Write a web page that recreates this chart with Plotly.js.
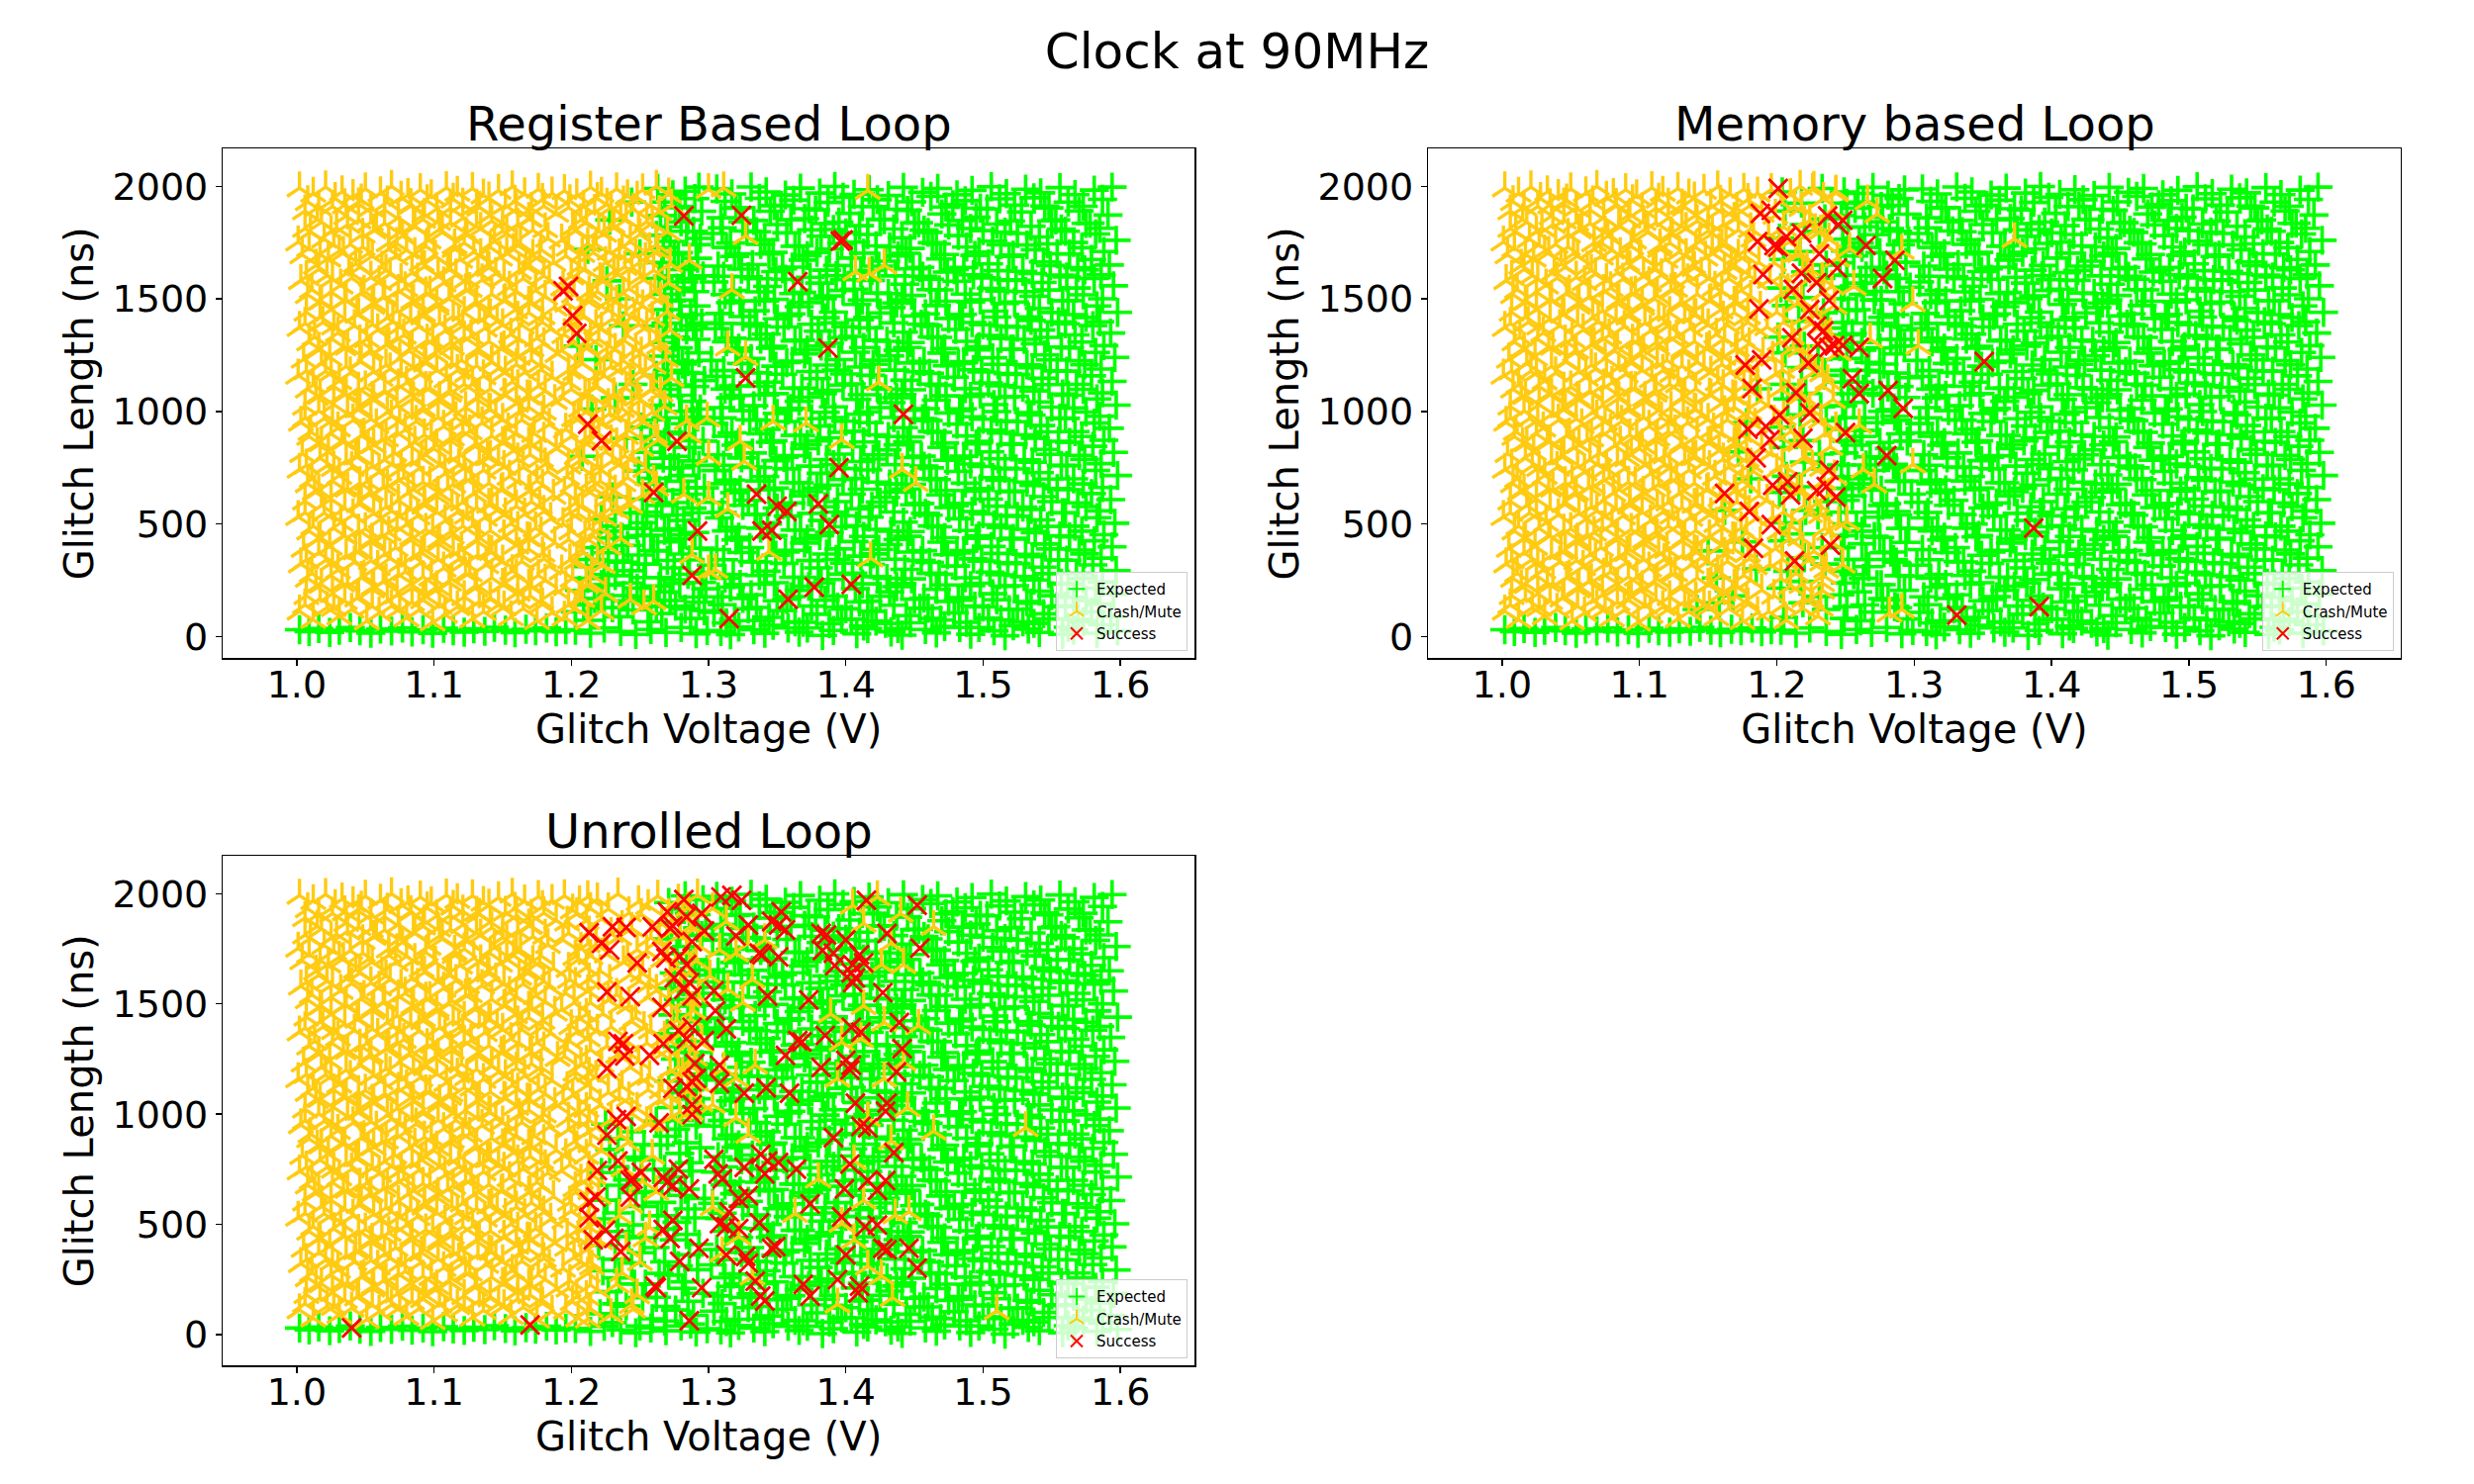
<!DOCTYPE html>
<html><head><meta charset="utf-8">
<script src="https://cdn.plot.ly/plotly-3.0.1.min.js"></script>
<style>html,body{margin:0;padding:0;background:#fff}</style>
</head><body><div id="chart" style="width:2500px;height:1500px"></div>
<script>
const figureTitle = 'Clock at 90MHz';
const panelTitles = ['Register Based Loop', 'Memory based Loop', 'Unrolled Loop'];
const seriesNames = ['Expected', 'Crash/Mute', 'Success'];
const xTicks = [1.0, 1.1, 1.2, 1.3, 1.4, 1.5, 1.6];
const yTicks = [0, 500, 1000, 1500, 2000];

// Crash/Mute cloud common to all three sweeps (1.00 - 1.19 V)
const coreYellow = [
[1.002,1992],[1.012,1968],[1.021,1996],[1.033,1975],[1.041,1958],[1.050,1988],[1.061,1970],[1.069,1999],[1.081,1962],[1.090,1984],[1.098,1957],[1.109,1993],[1.117,1972],[1.128,1990],[1.136,1960],[1.147,1981],[1.157,1997],[1.166,1966],[1.176,1986],[1.186,1969],
[1.006,1890],[1.015,1852],[1.026,1910],[1.036,1868],[1.045,1921],[1.054,1840],[1.064,1895],[1.074,1860],[1.083,1918],[1.093,1875],[1.103,1843],[1.112,1902],[1.121,1858],[1.131,1915],[1.141,1871],[1.150,1838],[1.160,1898],[1.170,1856],[1.180,1912],[1.189,1879],
[1.001,1752],[1.010,1798],[1.020,1765],[1.029,1815],[1.039,1741],[1.048,1786],[1.058,1810],[1.067,1748],[1.077,1779],[1.086,1820],[1.096,1760],[1.106,1795],[1.115,1738],[1.124,1783],[1.134,1812],[1.144,1755],[1.153,1790],[1.163,1744],[1.172,1805],[1.183,1768],
[1.004,1695],[1.014,1648],[1.023,1680],[1.031,1712],[1.043,1655],[1.052,1701],[1.062,1640],[1.072,1688],[1.080,1716],[1.091,1660],[1.100,1692],[1.110,1635],[1.119,1675],[1.129,1708],[1.139,1651],[1.148,1684],[1.158,1719],[1.167,1645],[1.177,1690],[1.187,1661],
[1.003,1580],[1.011,1541],[1.022,1603],[1.032,1560],[1.040,1592],[1.049,1533],[1.060,1575],[1.068,1610],[1.079,1548],[1.088,1587],[1.097,1528],[1.107,1570],[1.116,1605],[1.126,1545],[1.135,1583],[1.145,1612],[1.155,1551],[1.165,1590],[1.174,1537],[1.184,1578],
[1.007,1440],[1.017,1488],[1.025,1452],[1.035,1495],[1.044,1431],[1.055,1470],[1.063,1505],[1.073,1446],[1.084,1480],[1.092,1423],[1.102,1466],[1.111,1500],[1.122,1438],[1.130,1475],[1.140,1428],[1.151,1491],[1.159,1450],[1.169,1484],[1.179,1425],[1.188,1462],
[1.002,1372],[1.013,1330],[1.019,1395],[1.030,1348],[1.042,1380],[1.051,1321],[1.059,1361],[1.070,1398],[1.078,1338],[1.089,1376],[1.099,1316],[1.108,1357],[1.118,1392],[1.127,1334],[1.137,1369],[1.146,1400],[1.156,1342],[1.164,1383],[1.175,1325],[1.185,1366],
[1.005,1231],[1.016,1272],[1.024,1240],[1.034,1286],[1.046,1222],[1.053,1260],[1.065,1295],[1.075,1235],[1.082,1268],[1.094,1214],[1.101,1252],[1.113,1289],[1.120,1227],[1.132,1264],[1.142,1218],[1.149,1278],[1.161,1243],[1.171,1281],[1.178,1212],[1.190,1256],
[1.001,1160],[1.012,1118],[1.021,1178],[1.031,1135],[1.039,1170],[1.050,1108],[1.061,1150],[1.068,1188],[1.080,1127],[1.090,1165],[1.097,1104],[1.109,1143],[1.117,1181],[1.128,1121],[1.136,1157],[1.147,1190],[1.157,1131],[1.166,1173],[1.176,1112],[1.186,1152],
[1.006,1022],[1.014,1065],[1.027,1030],[1.036,1078],[1.044,1011],[1.056,1050],[1.064,1084],[1.073,1025],[1.085,1058],[1.092,1003],[1.104,1044],[1.111,1080],[1.123,1017],[1.131,1055],[1.141,1008],[1.152,1071],[1.160,1035],[1.168,1068],[1.180,1000],[1.188,1047],
[1.003,951],[1.010,910],[1.020,968],[1.030,925],[1.041,960],[1.049,898],[1.058,940],[1.069,978],[1.079,917],[1.087,955],[1.098,893],[1.107,933],[1.116,972],[1.126,912],[1.135,948],[1.145,981],[1.154,921],[1.164,962],[1.173,901],[1.184,942],
[1.004,812],[1.015,855],[1.023,820],[1.033,868],[1.043,801],[1.052,840],[1.062,874],[1.071,815],[1.082,848],[1.091,793],[1.100,834],[1.112,870],[1.119,806],[1.130,845],[1.139,797],[1.150,861],[1.158,825],[1.169,858],[1.178,790],[1.189,836],
[1.002,742],[1.011,700],[1.022,758],[1.031,715],[1.040,750],[1.051,688],[1.060,730],[1.070,768],[1.078,707],[1.089,745],[1.097,683],[1.108,723],[1.118,762],[1.127,702],[1.136,738],[1.147,771],[1.155,711],[1.165,752],[1.175,691],[1.183,733],
[1.006,601],[1.013,644],[1.025,610],[1.034,657],[1.045,590],[1.053,630],[1.063,663],[1.074,604],[1.081,637],[1.093,582],[1.102,623],[1.110,660],[1.121,596],[1.129,634],[1.140,586],[1.149,651],[1.159,615],[1.170,648],[1.177,580],[1.187,626],
[1.001,532],[1.012,490],[1.020,548],[1.032,505],[1.041,540],[1.050,478],[1.061,520],[1.069,557],[1.080,497],[1.088,535],[1.099,473],[1.108,513],[1.117,552],[1.128,492],[1.137,528],[1.146,560],[1.156,501],[1.166,543],[1.174,481],[1.185,523],
[1.005,391],[1.016,434],[1.024,400],[1.035,447],[1.043,380],[1.054,420],[1.062,453],[1.072,394],[1.083,427],[1.091,372],[1.103,413],[1.113,450],[1.120,386],[1.131,424],[1.142,376],[1.151,441],[1.160,405],[1.168,438],[1.179,370],[1.188,416],
[1.003,322],[1.011,280],[1.021,338],[1.030,295],[1.042,330],[1.049,268],[1.059,310],[1.068,347],[1.079,287],[1.090,325],[1.098,263],[1.107,303],[1.118,342],[1.126,282],[1.138,318],[1.145,350],[1.157,291],[1.164,333],[1.176,271],[1.184,313],
[1.007,181],[1.014,224],[1.026,190],[1.033,237],[1.044,170],[1.055,210],[1.063,243],[1.073,184],[1.084,217],[1.092,162],[1.101,203],[1.111,240],[1.122,176],[1.130,214],[1.141,166],[1.150,231],[1.161,195],[1.169,228],[1.178,160],[1.189,206],
[1.002,112],[1.012,75],[1.022,128],[1.031,90],[1.040,120],[1.051,68],[1.060,104],[1.069,135],[1.080,82],[1.089,117],[1.099,63],[1.108,98],[1.117,131],[1.128,78],[1.136,110],[1.147,140],[1.156,86],[1.165,124],[1.175,70],[1.186,106]
];
const coreYellow2 = [
[1.008,1931],[1.016,1908],[1.028,1945],[1.035,1917],[1.047,1938],[1.054,1903],[1.066,1929],[1.076,1950],[1.083,1912],[1.095,1935],[1.102,1899],[1.114,1942],[1.121,1920],[1.133,1906],[1.140,1947],[1.152,1915],[1.159,1933],[1.171,1901],[1.179,1940],
[1.006,1812],[1.018,1840],[1.025,1798],[1.037,1829],[1.045,1849],[1.056,1805],[1.064,1835],[1.075,1795],[1.085,1826],[1.092,1852],[1.104,1808],[1.112,1838],[1.123,1792],[1.131,1822],[1.142,1845],[1.150,1801],[1.161,1830],[1.169,1856],[1.181,1810],
[1.009,1725],[1.017,1698],[1.027,1740],[1.034,1705],[1.048,1730],[1.055,1690],[1.067,1720],[1.073,1745],[1.086,1700],[1.094,1733],[1.101,1688],[1.115,1722],[1.122,1748],[1.134,1695],[1.141,1728],[1.153,1703],[1.160,1742],[1.172,1692],[1.178,1718],
[1.007,1598],[1.016,1630],[1.026,1588],[1.038,1620],[1.046,1640],[1.054,1595],[1.065,1626],[1.076,1584],[1.084,1615],[1.093,1643],[1.103,1600],[1.112,1632],[1.124,1586],[1.132,1618],[1.140,1638],[1.151,1592],[1.162,1624],[1.170,1646],[1.180,1602],
[1.008,1518],[1.018,1490],[1.025,1530],[1.036,1497],[1.047,1522],[1.056,1482],[1.064,1512],[1.074,1536],[1.085,1493],[1.094,1525],[1.102,1480],[1.113,1514],[1.123,1540],[1.131,1488],[1.142,1520],[1.152,1495],[1.160,1533],[1.171,1485],[1.181,1510],
[1.006,1390],[1.017,1420],[1.027,1378],[1.035,1410],[1.045,1432],[1.055,1386],[1.066,1415],[1.075,1375],[1.083,1406],[1.092,1436],[1.104,1392],[1.114,1423],[1.121,1380],[1.133,1412],[1.141,1430],[1.150,1384],[1.161,1418],[1.169,1438],[1.179,1395],
[1.009,1308],[1.016,1280],[1.026,1320],[1.037,1288],[1.046,1312],[1.054,1272],[1.067,1302],[1.073,1326],[1.084,1283],[1.095,1315],[1.103,1270],[1.112,1305],[1.122,1330],[1.132,1278],[1.140,1310],[1.151,1286],[1.162,1323],[1.170,1275],[1.180,1300],
[1.007,1180],[1.018,1212],[1.025,1170],[1.036,1200],[1.047,1222],[1.056,1176],[1.065,1205],[1.076,1165],[1.085,1196],[1.093,1226],[1.102,1182],[1.113,1214],[1.124,1168],[1.131,1202],[1.142,1220],[1.152,1174],[1.160,1208],[1.171,1228],[1.178,1185],
[1.008,1098],[1.017,1070],[1.027,1110],[1.034,1078],[1.045,1102],[1.055,1062],[1.064,1092],[1.074,1116],[1.083,1073],[1.094,1105],[1.104,1060],[1.112,1095],[1.122,1120],[1.133,1068],[1.141,1100],[1.151,1076],[1.161,1113],[1.170,1065],[1.181,1090],
[1.006,970],[1.016,1002],[1.026,960],[1.037,990],[1.046,1012],[1.054,966],[1.066,995],[1.075,955],[1.084,986],[1.092,1016],[1.103,972],[1.114,1004],[1.123,958],[1.132,992],[1.140,1010],[1.150,964],[1.162,998],[1.169,1018],[1.179,975],
[1.009,888],[1.018,860],[1.025,900],[1.035,868],[1.047,892],[1.056,852],[1.065,882],[1.073,906],[1.086,863],[1.093,895],[1.102,850],[1.113,885],[1.121,910],[1.131,858],[1.142,890],[1.152,866],[1.160,903],[1.171,855],[1.180,880],
[1.007,760],[1.017,792],[1.027,750],[1.036,780],[1.045,802],[1.055,756],[1.064,785],[1.076,745],[1.084,776],[1.094,806],[1.104,762],[1.112,794],[1.122,748],[1.133,782],[1.141,800],[1.151,754],[1.161,788],[1.170,808],[1.181,765],
[1.008,678],[1.016,650],[1.026,690],[1.037,658],[1.046,682],[1.054,642],[1.066,672],[1.074,696],[1.085,653],[1.092,685],[1.103,640],[1.114,675],[1.123,700],[1.132,648],[1.140,680],[1.150,656],[1.162,693],[1.169,645],[1.179,670],
[1.006,550],[1.018,582],[1.025,540],[1.035,570],[1.047,592],[1.056,546],[1.065,575],[1.075,535],[1.083,566],[1.093,596],[1.102,552],[1.113,584],[1.124,538],[1.131,572],[1.142,590],[1.152,544],[1.160,578],[1.171,598],[1.180,555],
[1.009,468],[1.017,440],[1.027,480],[1.034,448],[1.045,472],[1.055,432],[1.067,462],[1.073,486],[1.084,443],[1.094,475],[1.104,430],[1.112,465],[1.121,490],[1.133,438],[1.141,470],[1.151,446],[1.161,483],[1.170,435],[1.178,460],
[1.007,340],[1.016,372],[1.026,330],[1.036,360],[1.046,382],[1.054,336],[1.064,365],[1.076,325],[1.085,356],[1.093,386],[1.103,342],[1.114,374],[1.122,328],[1.132,362],[1.140,380],[1.150,334],[1.162,368],[1.169,388],[1.180,345],
[1.008,258],[1.018,230],[1.025,270],[1.037,238],[1.047,262],[1.056,222],[1.065,252],[1.074,276],[1.083,233],[1.092,265],[1.102,220],[1.113,255],[1.123,280],[1.131,228],[1.142,260],[1.152,236],[1.160,273],[1.171,225],[1.181,250],
[1.006,140],[1.017,168],[1.027,128],[1.035,158],[1.045,176],[1.055,134],[1.066,160],[1.075,122],[1.084,152],[1.094,178],[1.104,138],[1.112,165],[1.122,125],[1.133,155],[1.141,172],[1.151,130],[1.161,162],[1.170,180],[1.179,143]
];

// Expected cloud common to all three sweeps (1.30 - 1.60 V)
const coreGreen = [
[1.306,1988],[1.317,1966],[1.331,1997],[1.342,1975],[1.356,1961],[1.367,1992],[1.381,1970],[1.392,1999],[1.406,1964],[1.417,1985],[1.431,1959],[1.442,1995],[1.456,1973],[1.467,1990],[1.481,1962],[1.492,1982],[1.506,1998],[1.517,1967],[1.531,1987],[1.542,1971],[1.556,1994],[1.567,1963],[1.581,1983],[1.594,1996],
[1.309,1860],[1.320,1902],[1.333,1848],[1.345,1889],[1.353,1915],[1.370,1856],[1.378,1895],[1.395,1841],[1.403,1880],[1.420,1910],[1.428,1852],[1.445,1893],[1.453,1838],[1.470,1877],[1.478,1918],[1.495,1862],[1.503,1899],[1.520,1845],[1.528,1886],[1.545,1912],[1.553,1850],[1.570,1890],[1.578,1836],[1.591,1872],
[1.303,1790],[1.316,1748],[1.328,1801],[1.341,1762],[1.357,1793],[1.366,1735],[1.382,1778],[1.391,1808],[1.407,1752],[1.416,1786],[1.432,1731],[1.441,1771],[1.457,1805],[1.466,1744],[1.482,1781],[1.491,1812],[1.507,1756],[1.516,1796],[1.532,1739],[1.541,1775],[1.557,1810],[1.566,1750],[1.582,1788],[1.597,1760],
[1.307,1645],[1.319,1688],[1.332,1652],[1.344,1699],[1.354,1633],[1.369,1672],[1.379,1706],[1.394,1648],[1.404,1681],[1.419,1626],[1.429,1667],[1.444,1702],[1.454,1640],[1.469,1677],[1.479,1630],[1.494,1693],[1.504,1655],[1.519,1688],[1.529,1622],[1.544,1664],[1.554,1700],[1.569,1638],[1.579,1675],[1.592,1650],
[1.304,1575],[1.318,1537],[1.329,1598],[1.343,1555],[1.356,1587],[1.368,1528],[1.381,1570],[1.393,1603],[1.406,1543],[1.418,1582],[1.431,1523],[1.443,1565],[1.456,1600],[1.468,1540],[1.481,1578],[1.493,1607],[1.506,1546],[1.518,1585],[1.531,1532],[1.543,1573],[1.556,1605],[1.568,1548],[1.581,1590],[1.595,1558],
[1.308,1435],[1.316,1483],[1.334,1447],[1.341,1490],[1.358,1426],[1.366,1465],[1.383,1500],[1.391,1441],[1.408,1475],[1.416,1418],[1.433,1461],[1.441,1495],[1.458,1433],[1.466,1470],[1.483,1423],[1.491,1486],[1.508,1445],[1.516,1479],[1.533,1420],[1.541,1457],[1.558,1492],[1.566,1430],[1.583,1468],[1.598,1440],
[1.305,1367],[1.317,1325],[1.330,1390],[1.342,1343],[1.355,1375],[1.367,1316],[1.380,1356],[1.392,1393],[1.405,1333],[1.417,1371],[1.430,1311],[1.442,1352],[1.455,1387],[1.467,1329],[1.480,1364],[1.492,1395],[1.505,1337],[1.517,1378],[1.530,1320],[1.542,1361],[1.555,1398],[1.567,1340],[1.580,1381],[1.593,1348],
[1.302,1226],[1.320,1267],[1.331,1235],[1.345,1281],[1.357,1217],[1.370,1255],[1.382,1290],[1.395,1230],[1.407,1263],[1.420,1209],[1.432,1247],[1.445,1284],[1.457,1222],[1.470,1259],[1.482,1213],[1.495,1273],[1.507,1238],[1.520,1276],[1.532,1207],[1.545,1251],[1.557,1286],[1.570,1225],[1.582,1262],[1.596,1240],
[1.306,1155],[1.318,1113],[1.329,1173],[1.343,1130],[1.354,1165],[1.368,1103],[1.379,1145],[1.393,1183],[1.404,1122],[1.418,1160],[1.429,1099],[1.443,1138],[1.454,1176],[1.468,1116],[1.479,1152],[1.493,1185],[1.504,1126],[1.518,1168],[1.529,1107],[1.543,1147],[1.554,1180],[1.568,1120],[1.579,1158],[1.594,1133],
[1.309,1017],[1.316,1060],[1.333,1025],[1.341,1073],[1.358,1006],[1.366,1045],[1.383,1079],[1.391,1020],[1.408,1053],[1.416,998],[1.433,1039],[1.441,1075],[1.458,1012],[1.466,1050],[1.483,1003],[1.491,1066],[1.508,1030],[1.516,1063],[1.533,995],[1.541,1042],[1.558,1077],[1.566,1015],[1.583,1055],[1.597,1028],
[1.304,946],[1.317,905],[1.330,963],[1.342,920],[1.356,955],[1.367,893],[1.381,935],[1.392,973],[1.406,912],[1.417,950],[1.431,888],[1.442,928],[1.456,967],[1.467,907],[1.481,943],[1.492,976],[1.506,916],[1.517,957],[1.531,896],[1.542,937],[1.556,970],[1.567,910],[1.581,948],[1.592,925],
[1.307,807],[1.320,850],[1.332,815],[1.345,863],[1.355,796],[1.370,835],[1.380,869],[1.395,810],[1.405,843],[1.420,788],[1.430,829],[1.445,865],[1.455,801],[1.470,840],[1.480,792],[1.495,856],[1.505,820],[1.520,853],[1.530,785],[1.545,831],[1.555,867],[1.570,805],[1.580,845],[1.595,818],
[1.305,737],[1.316,695],[1.331,753],[1.341,710],[1.357,745],[1.366,683],[1.382,725],[1.391,763],[1.407,702],[1.416,740],[1.432,678],[1.441,718],[1.457,757],[1.466,697],[1.482,733],[1.491,766],[1.507,706],[1.516,747],[1.532,686],[1.541,728],[1.557,760],[1.566,700],[1.582,738],[1.598,715],
[1.303,596],[1.319,639],[1.329,605],[1.344,652],[1.354,585],[1.369,625],[1.379,658],[1.394,599],[1.404,632],[1.419,577],[1.429,618],[1.444,655],[1.454,591],[1.469,629],[1.479,581],[1.494,646],[1.504,610],[1.519,643],[1.529,575],[1.544,621],[1.554,657],[1.569,594],[1.579,635],[1.593,608],
[1.308,527],[1.317,485],[1.334,543],[1.343,500],[1.358,535],[1.367,473],[1.383,515],[1.392,552],[1.408,492],[1.417,530],[1.433,468],[1.442,508],[1.458,547],[1.467,487],[1.483,523],[1.492,555],[1.508,496],[1.517,538],[1.533,476],[1.542,518],[1.558,550],[1.567,490],[1.583,528],[1.596,503],
[1.306,386],[1.320,429],[1.330,395],[1.345,442],[1.356,375],[1.370,415],[1.381,448],[1.395,389],[1.406,422],[1.420,367],[1.431,408],[1.445,445],[1.456,381],[1.470,419],[1.481,371],[1.495,436],[1.506,400],[1.520,433],[1.531,365],[1.545,411],[1.556,447],[1.570,384],[1.581,425],[1.594,398],
[1.302,317],[1.318,275],[1.332,333],[1.342,290],[1.355,325],[1.368,263],[1.380,305],[1.393,342],[1.405,282],[1.418,320],[1.430,258],[1.443,298],[1.455,337],[1.468,277],[1.480,313],[1.493,345],[1.505,286],[1.518,328],[1.530,266],[1.543,308],[1.555,340],[1.568,280],[1.580,318],[1.597,293],
[1.307,176],[1.316,219],[1.331,185],[1.341,232],[1.357,165],[1.366,205],[1.382,238],[1.391,179],[1.407,212],[1.416,157],[1.432,198],[1.441,235],[1.457,171],[1.466,209],[1.482,161],[1.491,226],[1.507,190],[1.516,223],[1.532,155],[1.541,201],[1.557,237],[1.566,174],[1.582,215],[1.595,188],
[1.304,107],[1.319,70],[1.329,123],[1.344,85],[1.354,115],[1.369,63],[1.379,99],[1.394,130],[1.404,77],[1.419,112],[1.429,58],[1.444,93],[1.454,126],[1.469,73],[1.479,105],[1.494,135],[1.504,81],[1.519,119],[1.529,65],[1.544,101],[1.554,132],[1.569,76],[1.579,110],[1.593,88],
[1.309,22],[1.316,8],[1.333,30],[1.341,14],[1.358,38],[1.366,19],[1.383,5],[1.391,27],[1.408,12],[1.416,35],[1.433,20],[1.441,6],[1.458,31],[1.466,16],[1.483,40],[1.491,10],[1.508,25],[1.516,3],[1.533,33],[1.541,18],[1.558,9],[1.566,29],[1.583,15],[1.598,24]
];
const coreGreen2 = [
[1.312,1933],[1.323,1905],[1.337,1946],[1.348,1914],[1.362,1938],[1.373,1900],[1.387,1928],[1.398,1951],[1.412,1910],[1.423,1940],[1.437,1898],[1.448,1931],[1.462,1955],[1.473,1908],[1.487,1936],[1.498,1902],[1.512,1944],[1.523,1916],[1.537,1949],[1.548,1904],[1.562,1930],[1.573,1911],[1.587,1942],
[1.310,1815],[1.325,1842],[1.335,1798],[1.350,1830],[1.360,1851],[1.375,1806],[1.385,1834],[1.400,1793],[1.410,1825],[1.425,1854],[1.435,1810],[1.450,1837],[1.460,1795],[1.475,1828],[1.485,1848],[1.500,1803],[1.510,1832],[1.525,1790],[1.535,1822],[1.550,1846],[1.560,1800],[1.575,1835],[1.585,1813],
[1.313,1728],[1.322,1700],[1.338,1742],[1.347,1706],[1.363,1733],[1.372,1692],[1.388,1721],[1.397,1746],[1.413,1703],[1.422,1735],[1.438,1690],[1.447,1724],[1.463,1749],[1.472,1697],[1.488,1730],[1.497,1708],[1.513,1740],[1.522,1694],[1.538,1718],[1.547,1744],[1.563,1699],[1.572,1727],[1.588,1710],
[1.311,1600],[1.324,1632],[1.336,1589],[1.349,1621],[1.361,1641],[1.374,1596],[1.386,1627],[1.399,1585],[1.411,1616],[1.424,1645],[1.436,1602],[1.449,1633],[1.461,1587],[1.474,1619],[1.486,1639],[1.499,1593],[1.511,1625],[1.524,1582],[1.536,1612],[1.549,1648],[1.561,1597],[1.574,1629],[1.586,1606],
[1.312,1519],[1.323,1491],[1.337,1531],[1.348,1498],[1.362,1523],[1.373,1483],[1.387,1513],[1.398,1537],[1.412,1494],[1.423,1526],[1.437,1481],[1.448,1515],[1.462,1541],[1.473,1489],[1.487,1521],[1.498,1496],[1.512,1534],[1.523,1486],[1.537,1511],[1.548,1539],[1.562,1492],[1.573,1518],[1.587,1500],
[1.310,1391],[1.325,1421],[1.335,1379],[1.350,1411],[1.360,1433],[1.375,1387],[1.385,1416],[1.400,1376],[1.410,1407],[1.425,1437],[1.435,1393],[1.450,1424],[1.460,1381],[1.475,1413],[1.485,1431],[1.500,1385],[1.510,1419],[1.525,1374],[1.535,1404],[1.550,1439],[1.560,1389],[1.575,1417],[1.585,1398],
[1.313,1309],[1.322,1281],[1.338,1321],[1.347,1289],[1.363,1313],[1.372,1273],[1.388,1303],[1.397,1327],[1.413,1284],[1.422,1316],[1.438,1271],[1.447,1306],[1.463,1331],[1.472,1279],[1.488,1311],[1.497,1287],[1.513,1324],[1.522,1276],[1.538,1301],[1.547,1329],[1.563,1282],[1.572,1308],[1.588,1292],
[1.311,1181],[1.324,1213],[1.336,1171],[1.349,1201],[1.361,1223],[1.374,1177],[1.386,1206],[1.399,1166],[1.411,1197],[1.424,1227],[1.436,1183],[1.449,1215],[1.461,1169],[1.474,1203],[1.486,1221],[1.499,1175],[1.511,1209],[1.524,1164],[1.536,1194],[1.549,1229],[1.561,1179],[1.574,1207],[1.586,1188],
[1.312,1099],[1.323,1071],[1.337,1111],[1.348,1079],[1.362,1103],[1.373,1063],[1.387,1093],[1.398,1117],[1.412,1074],[1.423,1106],[1.437,1061],[1.448,1096],[1.462,1121],[1.473,1069],[1.487,1101],[1.498,1077],[1.512,1114],[1.523,1066],[1.537,1091],[1.548,1119],[1.562,1072],[1.573,1098],[1.587,1082],
[1.310,971],[1.325,1003],[1.335,961],[1.350,991],[1.360,1013],[1.375,967],[1.385,996],[1.400,956],[1.410,987],[1.425,1017],[1.435,973],[1.450,1005],[1.460,959],[1.475,993],[1.485,1011],[1.500,965],[1.510,999],[1.525,954],[1.535,984],[1.550,1019],[1.560,969],[1.575,997],[1.585,978],
[1.313,889],[1.322,861],[1.338,901],[1.347,869],[1.363,893],[1.372,853],[1.388,883],[1.397,907],[1.413,864],[1.422,896],[1.438,851],[1.447,886],[1.463,911],[1.472,859],[1.488,891],[1.497,867],[1.513,904],[1.522,856],[1.538,881],[1.547,909],[1.563,862],[1.572,888],[1.588,872],
[1.311,761],[1.324,793],[1.336,751],[1.349,781],[1.361,803],[1.374,757],[1.386,786],[1.399,746],[1.411,777],[1.424,807],[1.436,763],[1.449,795],[1.461,749],[1.474,783],[1.486,801],[1.499,755],[1.511,789],[1.524,744],[1.536,774],[1.549,809],[1.561,759],[1.574,787],[1.586,768],
[1.312,679],[1.323,651],[1.337,691],[1.348,659],[1.362,683],[1.373,643],[1.387,673],[1.398,697],[1.412,654],[1.423,686],[1.437,641],[1.448,676],[1.462,701],[1.473,649],[1.487,681],[1.498,657],[1.512,694],[1.523,646],[1.537,671],[1.548,699],[1.562,652],[1.573,678],[1.587,662],
[1.310,551],[1.325,583],[1.335,541],[1.350,571],[1.360,593],[1.375,547],[1.385,576],[1.400,536],[1.410,567],[1.425,597],[1.435,553],[1.450,585],[1.460,539],[1.475,573],[1.485,591],[1.500,545],[1.510,579],[1.525,534],[1.535,564],[1.550,599],[1.560,549],[1.575,577],[1.585,558],
[1.313,469],[1.322,441],[1.338,481],[1.347,449],[1.363,473],[1.372,433],[1.388,463],[1.397,487],[1.413,444],[1.422,476],[1.438,431],[1.447,466],[1.463,491],[1.472,439],[1.488,471],[1.497,447],[1.513,484],[1.522,436],[1.538,461],[1.547,489],[1.563,442],[1.572,468],[1.588,452],
[1.311,341],[1.324,373],[1.336,331],[1.349,361],[1.361,383],[1.374,337],[1.386,366],[1.399,326],[1.411,357],[1.424,387],[1.436,343],[1.449,375],[1.461,329],[1.474,363],[1.486,381],[1.499,335],[1.511,369],[1.524,324],[1.536,354],[1.549,389],[1.561,339],[1.574,367],[1.586,348],
[1.312,259],[1.323,231],[1.337,271],[1.348,239],[1.362,263],[1.373,223],[1.387,253],[1.398,277],[1.412,234],[1.423,266],[1.437,221],[1.448,256],[1.462,281],[1.473,229],[1.487,261],[1.498,237],[1.512,274],[1.523,226],[1.537,251],[1.548,279],[1.562,232],[1.573,258],[1.587,242],
[1.310,141],[1.325,169],[1.335,129],[1.350,159],[1.360,177],[1.375,135],[1.385,161],[1.400,123],[1.410,153],[1.425,179],[1.435,139],[1.450,166],[1.460,126],[1.475,156],[1.485,173],[1.500,131],[1.510,163],[1.525,121],[1.535,148],[1.550,181],[1.560,136],[1.575,160],[1.585,144],
[1.313,60],[1.322,42],[1.338,71],[1.347,50],[1.363,65],[1.372,38],[1.388,57],[1.397,76],[1.413,46],[1.422,68],[1.438,35],[1.447,61],[1.463,80],[1.472,44],[1.488,63],[1.497,40],[1.513,74],[1.522,48],[1.537,58],[1.548,78],[1.562,41],[1.573,66],[1.587,52]
];

// Expected points along the shortest glitch lengths (1.00 - 1.30 V)
const stripGreen = [
[1.002,30],[1.009,22],[1.016,35],[1.024,18],[1.031,28],[1.039,40],[1.046,25],[1.054,15],[1.061,33],[1.069,24],[1.077,38],[1.084,20],[1.092,30],[1.099,14],[1.107,36],[1.114,26],[1.122,19],[1.129,34],[1.137,23],[1.144,41],[1.152,28],[1.159,17],[1.167,32],[1.174,25],[1.182,38],[1.189,21],[1.196,30],
[1.203,28],[1.214,15],[1.224,38],[1.236,22],[1.247,9],[1.258,31],[1.269,18],[1.280,40],[1.291,12],[1.299,27]
];

// Register Based Loop
const regGreen = [
[1.263,1990],[1.274,1962],[1.283,1978],[1.293,1996],[1.265,1870],[1.276,1905],[1.285,1850],[1.295,1889],
[1.262,1782],[1.272,1755],[1.284,1800],[1.294,1768],[1.266,1661],[1.275,1698],[1.286,1645],[1.292,1680],
[1.264,1590],[1.277,1548],[1.282,1575],[1.296,1602],[1.268,1452],[1.273,1490],[1.287,1430],[1.291,1468],
[1.263,1378],[1.276,1330],[1.284,1362],[1.295,1393],[1.267,1245],[1.274,1282],[1.285,1222],[1.293,1260],
[1.262,1160],[1.278,1118],[1.283,1172],[1.297,1137],[1.265,1028],[1.272,1070],[1.288,1045],[1.294,1010],
[1.251,930],[1.262,962],[1.271,908],[1.283,945],[1.292,975],[1.254,818],[1.265,852],[1.275,800],[1.286,840],[1.296,868],
[1.249,735],[1.261,702],[1.272,750],[1.281,715],[1.293,760],[1.252,610],[1.264,648],[1.274,595],[1.285,632],[1.297,660],
[1.222,520],[1.232,490],[1.243,548],[1.252,505],[1.262,535],[1.271,478],[1.282,515],[1.293,550],
[1.220,395],[1.231,438],[1.241,405],[1.253,448],[1.263,380],[1.272,420],[1.283,452],[1.294,392],
[1.211,310],[1.224,275],[1.233,335],[1.244,292],[1.254,322],[1.265,262],[1.275,305],[1.286,340],[1.296,285],
[1.206,205],[1.217,168],[1.227,228],[1.238,182],[1.248,215],[1.258,160],[1.268,198],[1.279,236],[1.289,175],[1.298,212],
[1.203,110],[1.214,72],[1.224,128],[1.235,88],[1.245,118],[1.256,65],[1.266,102],[1.276,134],[1.287,80],[1.297,115],
[1.205,1290],[1.215,1010],[1.228,1850],[1.235,1500],[1.212,1720],[1.240,880],[1.230,620],[1.218,1230],[1.245,1120],[1.208,800],[1.250,1700],[1.238,1380],[1.226,1580],[1.244,1930],[1.232,1060]
];
const regGreen2 = [
[1.268,1930],[1.279,1910],[1.290,1945],[1.269,1820],[1.280,1842],[1.289,1800],[1.267,1728],[1.278,1705],[1.291,1740],
[1.270,1602],[1.281,1630],[1.288,1590],[1.268,1520],[1.279,1494],[1.290,1532],[1.269,1392],[1.280,1418],[1.289,1380],
[1.267,1306],[1.278,1282],[1.291,1320],[1.270,1182],[1.281,1210],[1.288,1170],[1.268,1098],[1.279,1072],[1.290,1110],
[1.269,972],[1.280,1000],[1.289,960],
[1.258,888],[1.268,862],[1.279,900],[1.290,870],[1.256,762],[1.267,792],[1.278,750],[1.289,780],
[1.257,678],[1.269,650],[1.280,690],[1.291,660],[1.255,552],[1.266,582],[1.277,540],[1.288,570],
[1.226,468],[1.237,440],[1.248,480],[1.258,450],[1.268,472],[1.279,435],[1.290,462],
[1.215,342],[1.227,372],[1.238,330],[1.249,362],[1.260,382],[1.270,338],[1.281,366],
[1.212,258],[1.222,230],[1.232,270],[1.243,238],[1.253,262],[1.264,224],[1.274,252],[1.285,276],[1.295,240],
[1.209,140],[1.220,168],[1.230,128],[1.241,158],[1.251,176],[1.262,134],[1.272,160],[1.283,122],[1.293,152]
];
const regYellow = [
[1.195,1980],[1.204,1961],[1.214,1995],[1.222,1968],[1.233,1988],[1.241,1957],[1.252,1983],[1.262,1999],[1.271,1965],
[1.198,1905],[1.207,1850],[1.217,1892],[1.226,1920],[1.236,1862],[1.245,1898],[1.255,1842],[1.264,1887],[1.273,1915],
[1.193,1760],[1.203,1802],[1.212,1745],[1.224,1790],[1.231,1815],[1.243,1753],[1.250,1785],[1.262,1740],[1.270,1798],
[1.196,1690],[1.206,1642],[1.216,1705],[1.225,1660],[1.235,1695],[1.244,1638],[1.254,1678],[1.263,1712],[1.272,1655],
[1.194,1552],[1.205,1595],[1.213,1530],[1.223,1577],[1.234,1608],[1.242,1545],[1.253,1585],[1.261,1536],[1.271,1571],
[1.197,1480],[1.207,1432],[1.215,1495],[1.227,1450],[1.233,1488],[1.246,1425],[1.252,1468],[1.265,1502],[1.270,1443],
[1.195,1340],[1.204,1385],[1.214,1322],[1.222,1368],[1.235,1398],[1.241,1336],[1.255,1375],[1.262,1318],[1.272,1360],
[1.193,1270],[1.206,1222],[1.212,1285],[1.226,1240],[1.232,1275],[1.245,1215],[1.251,1258],[1.264,1292],[1.269,1233],
[1.198,1130],[1.203,1175],[1.217,1112],[1.224,1158],[1.236,1188],[1.243,1125],[1.254,1165],[1.260,1105],[1.273,1148],
[1.194,1060],[1.207,1012],[1.213,1075],[1.227,1030],[1.231,1065],[1.244,1005],[1.250,1048],[1.265,1082],[1.268,1022],
[1.196,920],[1.205,965],[1.216,902],[1.223,948],[1.234,978],[1.242,915],[1.253,955],[1.261,895],
[1.193,850],[1.204,802],[1.214,865],[1.225,820],[1.233,855],[1.245,795],[1.251,838],[1.263,872],
[1.197,710],[1.206,755],[1.215,692],[1.222,738],[1.236,768],[1.241,705],[1.254,745],[1.260,688],
[1.195,640],[1.203,592],[1.217,655],[1.226,610],[1.232,645],[1.243,585],[1.252,628],[1.262,662],
[1.194,500],[1.205,545],[1.213,482],[1.224,528],[1.233,560],[1.198,430],[1.207,382],[1.216,445],[1.227,400],[1.236,435],
[1.193,290],[1.204,335],[1.215,272],[1.223,318],[1.196,220],[1.206,172],[1.214,235],[1.225,190],[1.195,85],[1.203,125],[1.212,70],
[1.300,1985],[1.311,1992],[1.327,1780],[1.416,1981],[1.317,1540],[1.428,1649],[1.407,1620],[1.417,1613],[1.286,1671],[1.314,1285],
[1.327,1242],[1.424,1130],[1.299,970],[1.347,955],[1.371,948],[1.323,867],[1.397,874],[1.326,778],[1.300,800],[1.441,742],
[1.451,683],[1.300,618],[1.314,567],[1.344,377],[1.418,348],[1.305,297],[1.300,290],[1.260,157],[1.253,135],[1.243,165],
[1.222,114],[1.288,363],[1.284,957],[1.286,896],[1.282,631]
];
const regYellow2 = [
[1.199,1935],[1.209,1910],[1.219,1945],[1.229,1905],[1.238,1930],[1.248,1950],[1.258,1915],
[1.201,1815],[1.211,1840],[1.220,1800],[1.230,1830],[1.240,1852],[1.249,1808],[1.259,1835],
[1.198,1728],[1.208,1700],[1.218,1742],[1.228,1710],[1.237,1735],[1.247,1692],[1.257,1722],
[1.200,1600],[1.210,1632],[1.221,1588],[1.231,1620],[1.239,1642],[1.250,1596],[1.260,1626],
[1.202,1520],[1.212,1490],[1.219,1532],[1.229,1498],[1.238,1524],[1.248,1484],[1.258,1512],
[1.199,1392],[1.209,1420],[1.218,1380],[1.230,1410],[1.240,1434],[1.249,1386],[1.259,1416],
[1.201,1306],[1.211,1280],[1.220,1320],[1.228,1290],[1.239,1312],[1.247,1274],[1.257,1302],
[1.198,1182],[1.208,1212],[1.221,1170],[1.229,1200],[1.238,1224],[1.250,1176],[1.260,1205],
[1.200,1098],[1.210,1070],[1.219,1110],[1.231,1078],[1.240,1102],[1.248,1062],[1.258,1092],
[1.202,972],[1.212,1002],[1.218,960],[1.228,990],[1.237,1012],[1.249,966],[1.259,995],
[1.200,888],[1.210,860],[1.220,900],[1.229,868],[1.240,892],[1.198,760],[1.209,792],[1.219,750],[1.230,780],[1.239,802],
[1.201,678],[1.211,650],[1.221,690],[1.228,658],[1.238,682],[1.199,550],[1.208,582],[1.218,540],[1.229,570],[1.241,592],
[1.200,468],[1.210,440],[1.221,480],[1.199,340],[1.209,372],[1.219,330],[1.201,258],[1.211,230],[1.198,140],[1.208,168]
];
const regSuccess = [
[1.282,1868],[1.324,1871],[1.396,1756],[1.398,1762],[1.365,1576],[1.194,1535],[1.198,1555],[1.201,1425],[1.204,1346],[1.387,1281],
[1.327,1149],[1.442,987],[1.212,943],[1.222,870],[1.277,867],[1.395,750],[1.260,640],[1.335,632],[1.350,579],[1.357,555],
[1.380,589],[1.388,497],[1.292,469],[1.339,469],[1.346,472],[1.288,272],[1.377,219],[1.404,231],[1.358,165],[1.315,80]
];

// Memory based Loop
const memGreen = [
[1.204,1975],[1.233,1990],[1.259,1968],[1.270,1995],[1.281,1960],[1.293,1984],[1.206,1890],[1.235,1855],[1.257,1902],[1.268,1862],[1.284,1915],[1.295,1876],
[1.202,1770],[1.231,1800],[1.260,1748],[1.273,1785],[1.282,1812],[1.296,1758],[1.205,1675],[1.236,1650],[1.256,1690],[1.269,1640],[1.285,1700],[1.294,1662],
[1.203,1548],[1.232,1590],[1.261,1570],[1.272,1533],[1.280,1605],[1.297,1552],[1.207,1470],[1.234,1438],[1.258,1452],[1.271,1495],[1.286,1430],[1.292,1478],
[1.201,1330],[1.237,1370],[1.255,1345],[1.274,1392],[1.283,1320],[1.298,1362],[1.206,1260],[1.230,1230],[1.262,1272],[1.267,1218],[1.287,1255],[1.293,1290],
[1.204,1120],[1.235,1160],[1.259,1130],[1.275,1175],[1.281,1108],[1.296,1150],[1.208,1055],[1.232,1020],[1.256,1040],[1.270,1080],[1.284,1008],[1.294,1062],
[1.203,930],[1.236,958],[1.261,915],[1.273,950],[1.286,978],[1.297,905],[1.205,840],[1.231,810],[1.257,850],[1.268,798],[1.282,835],[1.295,868],
[1.207,712],[1.234,745],[1.260,700],[1.272,738],[1.285,765],[1.293,690],[1.202,640],[1.237,600],[1.255,625],[1.269,658],[1.280,590],[1.298,632],
[1.206,505],[1.230,540],[1.258,492],[1.274,530],[1.287,555],[1.296,480],[1.204,425],[1.233,395],[1.262,412],[1.271,445],[1.283,375],[1.294,418],
[1.208,290],[1.235,322],[1.256,275],[1.267,310],[1.285,342],[1.297,268],[1.203,215],[1.231,178],[1.259,198],[1.273,230],[1.281,162],[1.293,205],
[1.205,85],[1.236,120],[1.261,70],[1.270,108],[1.286,132],[1.295,78],
[1.142,120],[1.156,260],[1.168,180],[1.175,420],[1.162,560],[1.181,700],[1.150,380],[1.172,820],[1.185,300],[1.158,150],[1.178,950],[1.186,1100]
];
const memGreen2 = [
[1.263,1930],[1.276,1910],[1.289,1945],[1.218,1925],[1.264,1820],[1.277,1842],[1.288,1800],[1.220,1830],
[1.262,1728],[1.275,1705],[1.290,1740],[1.217,1710],[1.265,1602],[1.278,1630],[1.287,1590],[1.221,1620],
[1.263,1520],[1.276,1494],[1.289,1532],[1.219,1505],[1.264,1392],[1.277,1418],[1.288,1380],[1.216,1400],
[1.262,1306],[1.275,1282],[1.290,1320],[1.220,1290],[1.265,1182],[1.278,1210],[1.287,1170],[1.218,1195],
[1.263,1098],[1.276,1072],[1.289,1110],[1.221,1080],[1.264,972],[1.277,1000],[1.288,960],[1.217,985],
[1.262,888],[1.275,862],[1.290,900],[1.219,870],[1.265,762],[1.278,792],[1.287,750],[1.220,775],
[1.263,678],[1.276,650],[1.289,690],[1.216,665],[1.264,552],[1.277,582],[1.288,540],[1.221,560],
[1.262,468],[1.275,440],[1.290,480],[1.218,455],[1.265,342],[1.278,372],[1.287,330],[1.220,350],
[1.263,258],[1.276,230],[1.289,270],[1.217,245],[1.264,140],[1.277,168],[1.288,128],[1.219,150]
];
const memGreen3 = [
[1.249,1975],[1.251,1925],[1.247,1870],[1.252,1818],[1.248,1765],[1.250,1712],[1.246,1660],[1.251,1605],[1.249,1552],[1.247,1500],
[1.252,1448],[1.248,1395],[1.250,1340],[1.246,1288],[1.251,1235],[1.249,1182],[1.247,1130],[1.252,1078],[1.248,1025],[1.250,972],
[1.246,920],[1.251,868],[1.249,815],[1.247,762],[1.252,710],[1.248,658],[1.250,605],[1.246,552],[1.251,500],[1.249,448],
[1.247,395],[1.252,342],[1.248,290],[1.250,238],[1.246,185],[1.251,132],[1.249,80]
];
const memYellow = [
[1.196,1985],[1.210,1962],[1.227,1994],[1.243,1970],[1.199,1870],[1.213,1910],[1.224,1848],[1.240,1895],
[1.194,1790],[1.209,1752],[1.228,1805],[1.238,1765],[1.198,1660],[1.214,1700],[1.222,1640],[1.244,1680],
[1.195,1585],[1.208,1540],[1.226,1598],[1.240,1555],[1.200,1440],[1.215,1480],[1.229,1428],[1.242,1470],
[1.193,1375],[1.211,1335],[1.225,1390],[1.239,1345],[1.197,1240],[1.212,1285],[1.223,1225],[1.245,1262],
[1.199,1165],[1.209,1120],[1.228,1178],[1.237,1135],[1.194,1030],[1.216,1072],[1.224,1012],[1.241,1052],
[1.198,955],[1.210,910],[1.227,968],[1.243,925],[1.196,815],[1.213,858],[1.221,800],[1.239,842],
[1.200,740],[1.208,695],[1.226,752],[1.242,712],[1.193,605],[1.215,648],[1.229,590],[1.238,630],
[1.197,530],[1.211,488],[1.224,545],[1.245,505],[1.199,390],[1.209,432],[1.227,378],[1.240,418],
[1.195,320],[1.214,280],[1.223,338],[1.236,298],[1.198,182],[1.210,225],[1.225,168],[1.233,205],
[1.194,110],[1.207,72],[1.219,125],[1.230,90],
[1.217,1999],[1.226,1985],[1.243,1978],[1.266,1934],[1.273,1876],[1.291,1714],[1.253,1722],[1.256,1555],[1.299,1481],[1.303,1291],
[1.268,1320],[1.299,764],[1.271,676],[1.263,742],[1.251,510],[1.238,465],[1.282,103],[1.373,1766],[1.291,120],[1.248,320],
[1.260,940],[1.233,238]
];
const memYellow2 = [
[1.203,1930],[1.218,1905],[1.234,1945],[1.205,1818],[1.220,1842],[1.232,1800],[1.202,1725],[1.217,1700],[1.235,1740],
[1.204,1605],[1.219,1632],[1.233,1590],[1.203,1518],[1.218,1492],[1.234,1530],[1.205,1395],[1.220,1420],[1.232,1380],
[1.202,1308],[1.217,1280],[1.235,1322],[1.204,1185],[1.219,1212],[1.233,1170],[1.203,1098],[1.218,1072],[1.234,1110],
[1.205,975],[1.220,1002],[1.232,962],[1.202,888],[1.217,860],[1.235,900],[1.204,762],[1.219,792],[1.233,750],
[1.203,678],[1.218,650],[1.234,690],[1.205,552],[1.220,582],[1.232,540],[1.202,468],[1.217,440],[1.235,480],
[1.204,342],[1.219,372],[1.233,330],[1.203,258],[1.218,230],[1.234,270],[1.205,140],[1.220,168],[1.232,128]
];
const memSuccess = [
[1.201,1990],[1.188,1879],[1.196,1893],[1.237,1868],[1.245,1829],[1.248,1849],[1.186,1754],[1.198,1737],[1.201,1730],[1.207,1776],
[1.218,1791],[1.265,1737],[1.231,1700],[1.286,1671],[1.244,1637],[1.190,1608],[1.218,1613],[1.229,1572],[1.277,1590],[1.212,1542],
[1.238,1493],[1.187,1455],[1.224,1452],[1.229,1379],[1.234,1357],[1.211,1327],[1.230,1298],[1.238,1284],[1.242,1291],[1.248,1294],
[1.260,1284],[1.177,1206],[1.189,1229],[1.223,1215],[1.351,1221],[1.182,1101],[1.255,1145],[1.260,1079],[1.214,1083],[1.281,1093],
[1.292,1013],[1.202,984],[1.224,994],[1.179,921],[1.192,933],[1.195,874],[1.219,881],[1.250,906],[1.185,794],[1.280,804],
[1.238,739],[1.162,636],[1.197,672],[1.208,687],[1.210,629],[1.229,648],[1.236,666],[1.243,619],[1.180,555],[1.196,497],
[1.239,406],[1.183,392],[1.213,336],[1.387,482],[1.331,95],[1.391,132]
];

// Unrolled Loop
const unrGreen = [
[1.271,1960],[1.283,1990],[1.296,1972],[1.273,1870],[1.286,1910],[1.298,1850],[1.270,1795],[1.284,1760],[1.295,1810],
[1.275,1640],[1.287,1685],[1.299,1655],[1.272,1570],[1.282,1600],[1.296,1548],[1.274,1450],[1.285,1490],[1.297,1435],
[1.270,1365],[1.288,1330],[1.299,1380],[1.276,1250],[1.283,1280],[1.295,1225],[1.271,1150],[1.286,1110],[1.298,1172],
[1.273,1030],[1.284,1070],[1.296,1015],
[1.225,955],[1.244,920],[1.262,968],[1.276,932],[1.291,950],[1.228,840],[1.246,805],[1.265,860],[1.279,822],[1.294,848],
[1.222,735],[1.241,702],[1.260,748],[1.274,715],[1.288,742],[1.226,610],[1.247,645],[1.266,600],[1.280,632],[1.297,618],
[1.224,525],[1.245,498],[1.263,540],[1.277,510],[1.290,530],[1.220,405],[1.242,445],[1.261,395],[1.275,430],[1.293,410],
[1.223,290],[1.244,325],[1.264,278],[1.278,312],[1.292,295],[1.227,195],[1.246,230],[1.262,170],[1.281,210],[1.296,188],
[1.221,95],[1.240,130],[1.259,72],[1.276,112],[1.289,88]
];
const unrGreen2 = [
[1.278,1930],[1.291,1905],[1.279,1820],[1.292,1845],[1.277,1728],[1.290,1700],[1.280,1602],[1.293,1630],[1.278,1520],[1.291,1494],
[1.279,1392],[1.292,1420],[1.277,1306],[1.290,1280],[1.280,1182],[1.293,1210],[1.278,1098],[1.291,1070],[1.279,972],[1.292,1000],
[1.234,888],[1.253,862],[1.270,900],[1.284,870],[1.232,762],[1.251,792],[1.268,750],[1.286,780],
[1.235,678],[1.254,650],[1.271,690],[1.283,660],[1.233,552],[1.252,582],[1.269,540],[1.285,570],
[1.234,468],[1.253,440],[1.270,480],[1.284,455],[1.232,342],[1.251,372],[1.268,330],[1.286,362],
[1.235,258],[1.254,230],[1.271,270],[1.283,240],[1.233,140],[1.252,168],[1.269,128],[1.285,152],
[1.230,55],[1.250,40],[1.268,62],[1.287,48]
];
const unrYellow = [
[1.195,1990],[1.206,1962],[1.197,1870],[1.204,1908],[1.194,1790],[1.207,1752],[1.198,1660],[1.205,1700],[1.196,1548],[1.203,1592],
[1.193,1475],[1.206,1435],[1.199,1330],[1.204,1372],[1.195,1262],[1.207,1225],[1.197,1120],[1.203,1165],[1.194,1055],[1.205,1015],
[1.198,930],[1.206,965],[1.196,815],[1.204,852],[1.193,742],[1.207,700],[1.199,600],[1.203,645],[1.195,520],[1.206,480],
[1.197,395],[1.205,438],[1.194,300],[1.207,330],[1.198,210],[1.204,172],[1.196,110],[1.205,75],
[1.219,1975],[1.234,1998],[1.249,1963],[1.263,1988],[1.278,1970],[1.292,1993],[1.222,1885],[1.237,1850],[1.251,1905],[1.266,1862],[1.281,1895],[1.290,1842],
[1.218,1770],[1.235,1805],[1.248,1745],[1.264,1788],[1.279,1812],[1.294,1760],[1.221,1650],[1.238,1690],[1.252,1638],[1.267,1705],[1.276,1662],[1.291,1695],
[1.220,1590],[1.233,1542],[1.250,1605],[1.262,1560],[1.280,1578],[1.293,1530],[1.223,1455],[1.236,1495],[1.247,1438],[1.265,1478],[1.277,1425],[1.289,1470],
[1.219,1380],[1.239,1335],[1.253,1392],[1.268,1348],[1.282,1372],[1.295,1320],[1.222,1228],[1.234,1270],[1.249,1240],[1.263,1285],[1.278,1215],[1.290,1258],
[1.218,1170],[1.237,1125],[1.251,1160],[1.266,1110],[1.281,1182],[1.292,1140],[1.221,1040],[1.235,1078],[1.248,1025],[1.264,1062],[1.279,1010],[1.294,1050],
[1.218,940],[1.236,905],[1.255,960],[1.222,835],[1.241,870],[1.259,812],[1.216,720],[1.238,755],[1.252,695],
[1.220,630],[1.243,590],[1.262,648],[1.217,505],[1.235,540],[1.257,488],[1.221,425],[1.240,392],[1.254,438],
[1.215,310],[1.237,280],[1.250,330],[1.219,205],[1.233,228],[1.248,180],[1.214,118],[1.229,90],[1.244,135],
[1.303,1932],[1.313,1873],[1.329,1775],[1.341,1790],[1.308,1745],[1.320,1730],[1.423,1985],[1.405,1947],[1.440,1910],[1.413,1865],
[1.464,1850],[1.433,1775],[1.442,1678],[1.426,1678],[1.301,1626],[1.332,1611],[1.314,1566],[1.325,1506],[1.389,1454],[1.413,1491],
[1.428,1416],[1.453,1401],[1.411,1342],[1.397,1327],[1.442,1237],[1.428,1162],[1.394,1162],[1.334,1222],[1.320,1162],[1.311,1207],
[1.303,1043],[1.320,983],[1.329,908],[1.416,983],[1.445,1028],[1.464,923],[1.531,938],[1.433,878],[1.406,788],[1.380,706],
[1.413,609],[1.446,557],[1.397,504],[1.436,542],[1.406,430],[1.416,310],[1.426,265],[1.434,168],[1.394,138],[1.510,108],
[1.363,549],[1.332,265],[1.322,445],[1.303,579],[1.310,370],[1.245,116]
];
const unrYellow2 = [
[1.201,1925],[1.198,1820],[1.203,1715],[1.199,1610],[1.202,1505],[1.200,1400],[1.197,1295],[1.203,1190],[1.201,1085],
[1.198,980],[1.202,875],[1.199,770],[1.203,665],[1.200,560],[1.197,455],[1.202,350],[1.199,245],[1.201,150],
[1.227,1930],[1.242,1912],[1.256,1945],[1.271,1905],[1.285,1935],[1.229,1818],[1.244,1842],[1.258,1800],[1.273,1830],[1.287,1850],
[1.226,1725],[1.241,1700],[1.255,1740],[1.270,1712],[1.284,1735],[1.228,1605],[1.243,1632],[1.257,1590],[1.272,1622],[1.286,1640],
[1.227,1518],[1.242,1492],[1.256,1530],[1.271,1500],[1.285,1522],[1.229,1395],[1.244,1420],[1.258,1380],[1.273,1412],[1.287,1432],
[1.226,1308],[1.241,1280],[1.255,1322],[1.270,1290],[1.284,1312],[1.228,1185],[1.243,1212],[1.257,1170],[1.272,1200],[1.286,1222],
[1.227,1098],[1.242,1072],[1.256,1110],[1.271,1080],[1.285,1102],[1.229,975],[1.244,1002],[1.258,962],[1.273,990],[1.287,1012]
];
const unrYellow3 = [
[1.212,1985],[1.214,1932],[1.211,1878],[1.213,1825],[1.212,1772],[1.214,1718],[1.211,1665],[1.213,1612],[1.212,1558],[1.214,1505],
[1.211,1452],[1.213,1398],[1.212,1345],[1.214,1292],[1.211,1238],[1.213,1185],[1.212,1132],[1.214,1078],[1.211,1025],[1.213,972],
[1.212,918],[1.214,865],[1.211,812],[1.213,758],[1.212,705],[1.214,652],[1.211,598],[1.213,545],[1.212,492],[1.214,438],
[1.211,385],[1.213,332],[1.212,278],[1.214,225],[1.211,172],[1.213,118],[1.212,70]
];
const unrSuccess = [
[1.282,1973],[1.309,1985],[1.317,1992],[1.324,1970],[1.415,1970],[1.452,1947],[1.270,1917],[1.284,1895],[1.295,1910],[1.353,1917],
[1.346,1873],[1.213,1823],[1.230,1850],[1.240,1847],[1.259,1850],[1.272,1843],[1.274,1853],[1.297,1831],[1.329,1858],[1.320,1808],
[1.356,1835],[1.351,1858],[1.382,1820],[1.386,1813],[1.430,1820],[1.222,1775],[1.228,1745],[1.288,1783],[1.400,1790],[1.454,1753],
[1.248,1686],[1.266,1738],[1.269,1708],[1.279,1716],[1.337,1730],[1.339,1723],[1.351,1713],[1.383,1742],[1.391,1730],[1.410,1723],
[1.413,1686],[1.405,1678],[1.392,1674],[1.404,1641],[1.407,1618],[1.284,1678],[1.275,1618],[1.286,1596],[1.282,1566],[1.288,1536],
[1.304,1559],[1.405,1596],[1.427,1551],[1.226,1554],[1.243,1533],[1.343,1536],[1.373,1518],[1.266,1484],[1.305,1469],[1.439,1416],
[1.313,1387],[1.278,1379],[1.288,1394],[1.404,1394],[1.411,1372],[1.234,1330],[1.238,1319],[1.267,1319],[1.284,1342],[1.297,1334],
[1.365,1334],[1.368,1327],[1.385,1357],[1.441,1297],[1.239,1264],[1.257,1267],[1.356,1267],[1.290,1230],[1.308,1222],[1.400,1244],
[1.404,1222],[1.403,1200],[1.382,1212],[1.437,1192],[1.226,1207],[1.291,1162],[1.288,1147],[1.274,1117],[1.284,1125],[1.308,1140],
[1.326,1095],[1.342,1120],[1.359,1095],[1.407,1050],[1.430,1050],[1.429,1013],[1.288,1043],[1.288,998],[1.233,975],[1.240,990],
[1.264,960],[1.411,945],[1.416,938],[1.226,905],[1.391,893],[1.435,826],[1.234,788],[1.219,744],[1.243,699],[1.245,706],
[1.251,736],[1.267,714],[1.270,691],[1.278,751],[1.286,661],[1.274,676],[1.304,796],[1.307,729],[1.310,706],[1.326,759],
[1.338,818],[1.343,788],[1.351,781],[1.341,729],[1.364,751],[1.403,773],[1.416,699],[1.429,699],[1.423,654],[1.399,661],
[1.374,594],[1.213,602],[1.218,624],[1.243,624],[1.329,631],[1.322,617],[1.213,531],[1.274,519],[1.267,477],[1.225,474],
[1.231,437],[1.216,430],[1.272,437],[1.308,504],[1.315,557],[1.313,489],[1.322,482],[1.337,507],[1.397,534],[1.414,489],
[1.423,497],[1.236,377],[1.293,392],[1.313,362],[1.327,355],[1.329,325],[1.346,392],[1.349,400],[1.400,362],[1.427,392],
[1.430,385],[1.446,392],[1.279,332],[1.452,302],[1.261,220],[1.262,213],[1.295,213],[1.334,243],[1.369,228],[1.394,250],
[1.410,220],[1.409,190],[1.338,175],[1.341,153],[1.374,175],[1.286,63],[1.040,31],[1.170,44]
];

const panels = [
  {green: coreGreen.concat(coreGreen2, stripGreen, regGreen, regGreen2), yellow: coreYellow.concat(coreYellow2, regYellow, regYellow2), red: regSuccess},
  {green: coreGreen.concat(coreGreen2, stripGreen, memGreen, memGreen2, memGreen3), yellow: coreYellow.concat(coreYellow2, memYellow, memYellow2), red: memSuccess},
  {green: coreGreen.concat(coreGreen2, stripGreen, unrGreen, unrGreen2), yellow: coreYellow.concat(coreYellow2, unrYellow, unrYellow2, unrYellow3), red: unrSuccess}
];

const FONT = 'DejaVu Sans, sans-serif';
const GREEN = '#00ff00', YELLOW = '#ffcb12', RED = '#ff0000';
const axisIds = [['x','y'],['x2','y2'],['x3','y3']];
const legendIds = ['legend','legend2','legend3'];

const styles = [
  {symbol:'cross-thin-open', size:21, color:GREEN, width:3.6},
  {symbol:'y-up-open', size:21, color:YELLOW, width:3.4},
  {symbol:'x-thin-open', size:19, color:RED, width:2.8}
];

const traces = [];
panels.forEach((p, i) => {
  [p.green, p.yellow, p.red].forEach((pts, k) => {
    const s = styles[k];
    traces.push({
      type: 'scatter', mode: 'markers', name: seriesNames[k],
      x: pts.map(d => d[0]), y: pts.map(d => d[1]),
      xaxis: axisIds[i][0], yaxis: axisIds[i][1], legend: legendIds[i],
      marker: {symbol: s.symbol, size: s.size, color: s.color, line: {color: s.color, width: s.width}},
      hoverinfo: 'skip'
    });
  });
});

const xDomL = [0.09016, 0.4828], xDomR = [0.57732, 0.97028];
const yDomT = [0.55653, 0.89967], yDomB = [0.0798, 0.42307];
const xRange = [0.9463, 1.654];
const yRangeT = [-96, 2166], yRangeB = [-140, 2170];

function baseAxis() {
  return {showgrid:false, zeroline:false, showline:true, mirror:true, linecolor:'#000', linewidth:1.5,
    ticks:'outside', ticklen:6, tickwidth:1.4, tickcolor:'#000',
    tickfont:{family:FONT, size:38, color:'#000'}};
}
function xAx(dom, anchor) {
  return Object.assign(baseAxis(), {domain:dom, anchor:anchor, range:xRange, tickvals:xTicks, tickformat:'.1f',
    ticklabelstandoff:-13,
    title:{text:'Glitch Voltage (V)', font:{family:FONT, size:40, color:'#000'}, standoff:4}});
}
function yAx(dom, anchor, rng) {
  return Object.assign(baseAxis(), {domain:dom, anchor:anchor, range:rng, tickvals:yTicks,
    title:{text:'Glitch Length (ns)', font:{family:FONT, size:40, color:'#000'}, standoff:6}});
}
function leg(x, y) {
  return {x:x, y:y, xanchor:'right', yanchor:'bottom', bgcolor:'rgba(255,255,255,0.8)',
    bordercolor:'#cccccc', borderwidth:1, font:{family:FONT, size:15, color:'#000'}, itemsizing:'constant'};
}

const layout = {
  width:2500, height:1500, margin:{l:0,r:0,t:0,b:0}, paper_bgcolor:'#fff', plot_bgcolor:'#fff',
  font:{family:FONT, color:'#000'},
  title:{text:figureTitle, font:{family:FONT, size:50, color:'#000'}, x:0.5, xanchor:'center', y:0.9657, yanchor:'middle'},
  xaxis: xAx(xDomL,'y'), yaxis: yAx(yDomT,'x',yRangeT),
  xaxis2: xAx(xDomR,'y2'), yaxis2: yAx(yDomT,'x2',yRangeT),
  xaxis3: xAx(xDomL,'y3'), yaxis3: yAx(yDomB,'x3',yRangeB),
  legend: leg(0.48, 0.5613), legend2: leg(0.9675, 0.5613), legend3: leg(0.48, 0.0845),
  annotations: [
    {text:panelTitles[0], x:(xDomL[0]+xDomL[1])/2, y:yDomT[1]},
    {text:panelTitles[1], x:(xDomR[0]+xDomR[1])/2, y:yDomT[1]},
    {text:panelTitles[2], x:(xDomL[0]+xDomL[1])/2, y:yDomB[1]}
  ].map(a => Object.assign(a, {xref:'paper', yref:'paper', xanchor:'center', yanchor:'bottom', yshift:-5,
     showarrow:false, font:{family:FONT, size:48, color:'#000'}}))
};

Plotly.newPlot('chart', traces, layout, {staticPlot:true, displayModeBar:false});
</script>
</body></html>
